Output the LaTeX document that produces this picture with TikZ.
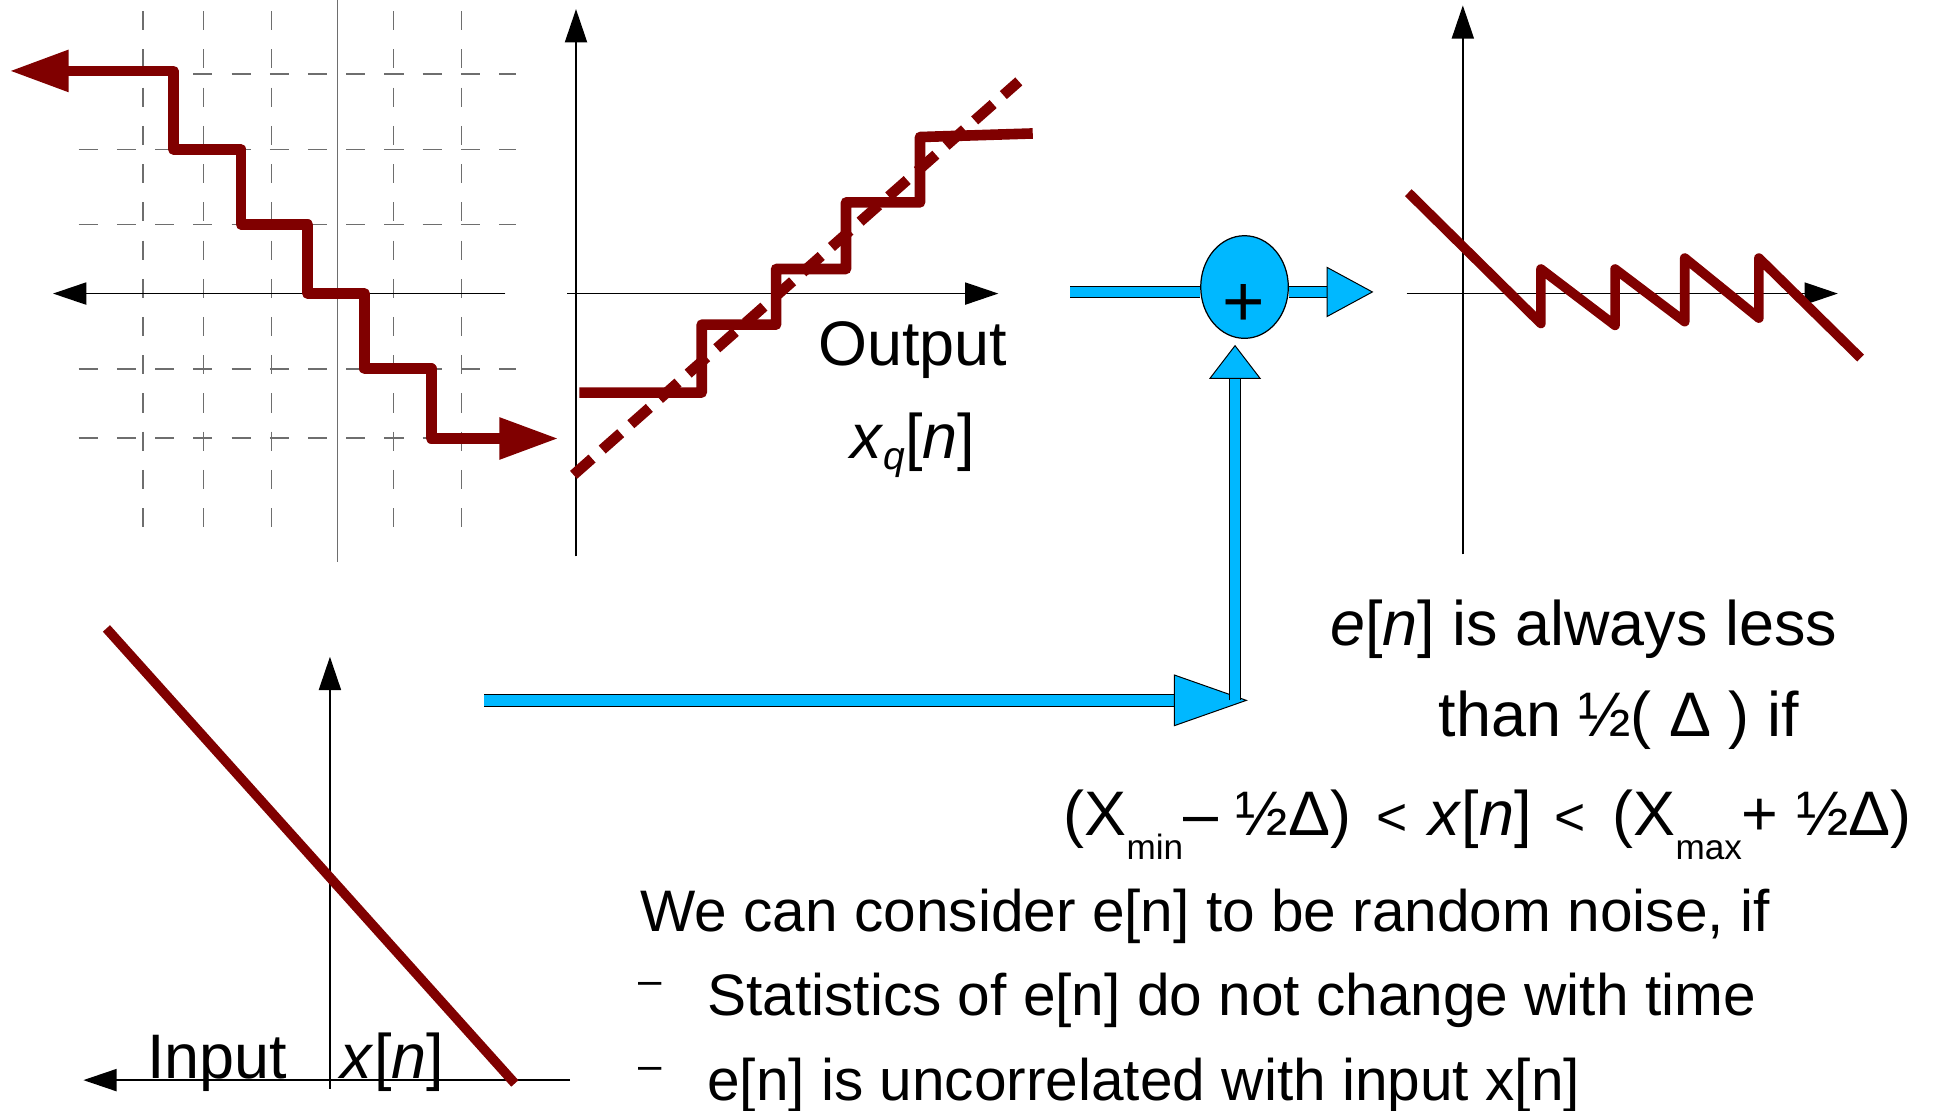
\documentclass[tikz,border=0pt]{standalone}
\usepackage{fontspec}
\setmainfont{Liberation Sans}
\usepackage{graphicx}
\usepackage{tikz}
\usetikzlibrary{arrows.meta,positioning,shapes.geometric,calc}
\definecolor{quantred}{RGB}{128,0,0}
\definecolor{flowblue}{RGB}{0,184,255}
\definecolor{gridgray}{RGB}{110,110,110}

% lowered small text (subscripts of the slide)
\newcommand{\lowsub}[3]{\raisebox{-#1}{\fontsize{#2}{#2}\selectfont #3}}
% thin less-than sign
\newcommand{\thinless}{\scalebox{0.85}{<}}

\begin{document}
\begin{tikzpicture}[
    x=0.5pt, y=-0.5pt,
    axis/.style={line width=0.6pt, -{Triangle[length=13.5pt, width=9pt]}},
    gridline/.style={gridgray, line width=0.6pt, dash pattern=on 7.75pt off 7.75pt},
    signal/.style={quantred, line width=3.9pt, line join=round},
    stair/.style={quantred, line width=4.3pt, line join=round},
    redtip/.style={{Triangle[length=24pt, width=16pt]}-{Triangle[length=24pt, width=16pt]}},
    shaft/.style={draw=flowblue, line width=4.3pt, preaction={draw=black, line width=5.1pt}},
    flow/.style 2 args={draw=flowblue, line width=4.3pt,
        -{Triangle[length=#1, width=#2, fill=flowblue, color=black, line width=0.4pt]},
        preaction={draw=black, line width=5.1pt, -, shorten >=#1}},
    sum/.style={ellipse, draw, line width=0.5pt, fill=flowblue, minimum width=35.5pt, minimum height=41.6pt, inner sep=0pt},
    lbl/.style={font=\fontsize{25.5}{30}\selectfont, inner sep=0pt, anchor=base west},
    body/.style={font=\fontsize{23.75}{28}\selectfont, inner sep=0pt, anchor=base west},
    bullet/.style={font=\fontsize{17}{20}\selectfont, inner sep=0pt},
]
\useasboundingbox (0,0) rectangle (1568,900);

% Quantizer characteristic (grid)
\foreach \gy in {60,121,182,299,355}
    \draw[gridline] (63.7,\gy) -- (418,\gy);
\foreach \gx in {116,165,220,319,374}
    \draw[gridline] (\gx,9) -- (\gx,435);
\draw[gridgray, line width=0.6pt] (273.6,0) -- (273.6,456);
\draw[axis] (409.8,238) -- (43,238);
\draw[stair, redtip] (7.7,57.5) -- (140.6,57.5) -- (140.6,121) -- (195.4,121)
    -- (195.4,182) -- (249.5,182) -- (249.5,238) -- (295.5,238) -- (295.5,299)
    -- (349.6,299) -- (349.6,355.5) -- (452.8,355.5);

% Output plot
\draw[axis] (467,451) -- (467,7.4);
\draw[axis] (460,238) -- (809.4,238);
\draw[quantred, line width=4.3pt, dash pattern=on 10pt off 5.5pt] (465,385) -- (826,66);
\draw[stair] (469.7,318.3) -- (568.9,318.3) -- (568.9,263.2) -- (629.2,263.2)
    -- (629.2,218.1) -- (685.9,218.1) -- (685.9,164.1) -- (745.9,164.1)
    -- (745.9,111.1) -- (837.3,108.2);
\node[lbl] (outlbl) at (663,296) {Output};
\node[lbl, anchor=base] (xqlbl) at ([yshift=-38pt]outlbl.base)
    {\textit{x}\lowsub{4.5pt}{15.8pt}{\textit{q}}[\textit{n}]};

% Error plot
\draw[axis] (1186,449.4) -- (1186,4.4);
\draw[axis] (1140.4,238) -- (1490,238);
\draw[signal] (1141.8,156.2) -- (1249.3,262.3) -- (1249.3,218.1) -- (1309.4,263.8)
    -- (1309.4,218.1) -- (1365.9,260.8) -- (1365.9,209.2) -- (1426,257.9)
    -- (1426,209.2) -- (1508.5,290.3);

% Input plot
\draw[axis] (267.5,882.5) -- (267.5,532.5);
\draw[axis] (462.3,875.7) -- (67.6,875.7);
\draw[signal] (86.3,509.5) -- (417.4,878.4);
\node[lbl] (inlbl) at (119,874) {Input};
\node[lbl] (xnlbl) at (276,874) {\textit{x}[\textit{n}]};

% Adder
\node[sum] (sum) at (1009,232.7) {};
\node[font=\fontsize{29.5}{32}\selectfont, inner sep=0pt] (plus) at (1008.6,247.5) {+};
\coordinate (inS) at (867.5,236.7);
\coordinate (outT) at (1113.5,236.7);
\coordinate (inB) at (392.5,567.8);
\coordinate (jB) at (1001.3,567.8);
\draw[shaft] (inS) -- (inS -| sum.west);
\draw[flow={19pt}{20.5pt}] (sum.east |- outT) -- (outT);
\draw[flow={30pt}{21pt}] (inB) -- ([xshift=5.2pt]jB);
\draw[flow={13.75pt}{21pt}, shorten >=2.4pt] (jB) -- (jB |- sum.south);

% Statements
\node[lbl] (enlbl) at (1078,523) {\textit{e}[\textit{n}] is always less};
\node[lbl] (halflbl) at (1166,597) {than ½( Δ ) if};
\node[lbl] (rangelbl) at (862,677)
    {(X\lowsub{10pt}{14.25pt}{min}– ½Δ)\hspace{3pt} \thinless\hspace{1.5pt} \textit{x}[\textit{n}]\hspace{2pt} \thinless\hspace{4pt} (X\lowsub{10pt}{14.25pt}{max}+ ½Δ)};
\node[body] (noiselbl) at (519,755) {We can consider e[n] to be random noise, if};
\node[body] (statlbl) at (573,823) {Statistics of e[n] do not change with time};
\node[body] (corrlbl) at (573,892) {e[n] is uncorrelated with input x[n]};
\node[bullet] (dashA) at ([xshift=-23pt, yshift=11pt]statlbl.base west) {–};
\node[bullet] (dashB) at ([xshift=-23pt, yshift=11pt]corrlbl.base west) {–};

\end{tikzpicture}
\end{document}
